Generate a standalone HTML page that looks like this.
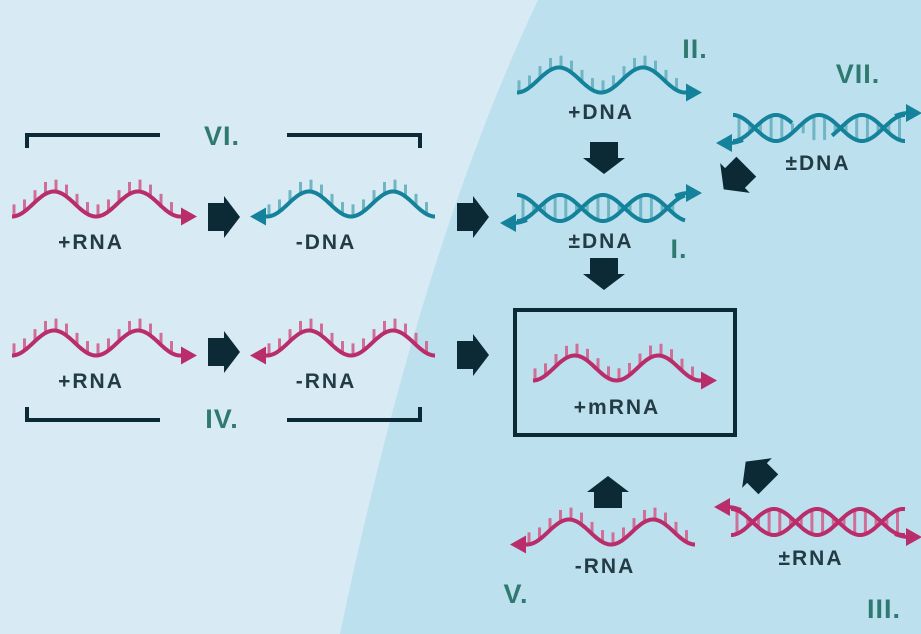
<!DOCTYPE html>
<html><head><meta charset="utf-8"><style>
html,body{margin:0;padding:0;width:921px;height:634px;overflow:hidden;background:#d8ebf4}
svg{display:block}
.lb{font-family:"Liberation Sans","DejaVu Sans",sans-serif;font-weight:bold;fill:#223b44;font-size:21px;letter-spacing:2px;text-anchor:middle}
.rn{font-family:"Liberation Sans","DejaVu Sans",sans-serif;font-weight:bold;fill:#2e7a70;font-size:27px;text-anchor:middle;letter-spacing:1px}
</style></head><body>
<svg id="s" width="921" height="634" viewBox="0 0 921 634" xmlns="http://www.w3.org/2000/svg">
<path d="M538 0 Q420 250 340 634 L921 634 L921 0 Z" fill="#bde0ee"/>
<g fill="none" stroke="#0b2a35" stroke-width="4">
<path d="M27 148 V135 H160"/><path d="M287 135 H420 V148"/>
<path d="M27 407 V420 H160"/><path d="M287 420 H420 V407"/>
<rect x="515" y="310" width="220" height="125"/>
</g>
<g id="g"></g>
<text class="rn" x="222" y="145">VI.</text>
<text class="rn" x="695" y="58">II.</text>
<text class="rn" x="858" y="83">VII.</text>
<text class="rn" x="679" y="258">I.</text>
<text class="rn" x="222" y="428">IV.</text>
<text class="rn" x="516" y="603">V.</text>
<text class="rn" x="884" y="618">III.</text>
<text class="lb" x="91" y="249">+RNA</text>
<text class="lb" x="326" y="249">-DNA</text>
<text class="lb" x="601" y="119">+DNA</text>
<text class="lb" x="601" y="248">±DNA</text>
<text class="lb" x="818" y="170">±DNA</text>
<text class="lb" x="91" y="388">+RNA</text>
<text class="lb" x="326" y="388">-RNA</text>
<text class="lb" x="617" y="414">+mRNA</text>
<text class="lb" x="605" y="573">-RNA</text>
<text class="lb" x="811" y="565">±RNA</text>
</svg>
<script>
var g=document.getElementById('g'),NS='http://www.w3.org/2000/svg';
function el(t,a){var e=document.createElementNS(NS,t);for(var k in a)e.setAttribute(k,a[k]);g.appendChild(e);return e;}
var PINK='#b92d6a',PT='#cf6f98',TEAL='#13829a',TT='#6fb5c4',DK='#0b2a35';
function wave(x0,x1,cy,A,P,ph,sign){var d='';for(var x=x0;x<=x1+0.01;x+=1){var y=cy+sign*A*Math.cos(2*Math.PI*(x-ph)/P);d+=(d?'L':'M')+x.toFixed(1)+' '+y.toFixed(1);}return d;}
function head(x,y,dir,c){var s=dir>0?1:-1;el('polygon',{points:(x)+','+y+' '+(x-s*16)+','+(y-9)+' '+(x-s*16)+','+(y+9),fill:c});}
function single(x0,x1,cy,c,tc,dir){var A=12.5,P=(x1-x0)/2;
 for(var x=x0+2;x<=x1;x+=10.5){var y=cy+A*Math.cos(2*Math.PI*(x-x0)/P);el('line',{x1:x,y1:y,x2:x,y2:y-12,stroke:tc,'stroke-width':3});}
 el('path',{d:wave(x0,x1,cy,A,P,x0,1),stroke:c,'stroke-width':4,fill:'none'});
 if(dir>0){el('path',{d:'M'+x1+' '+(cy+A)+' L'+(x1+8)+' '+(cy+A),stroke:c,'stroke-width':4});head(x1+17,cy+A,1,c);}
 else{el('path',{d:'M'+x0+' '+(cy+A)+' L'+(x0-8)+' '+(cy+A),stroke:c,'stroke-width':4});head(x0-17,cy+A,-1,c);}
}
function helix(x0,x1,cy,c,tc,gap,flip){var A=13,P=86;
 for(var x=x0+6;x<=x1-4;x+=10.7){var y1=cy+A*Math.cos(2*Math.PI*(x-x0)/P),y2=cy-A*Math.cos(2*Math.PI*(x-x0)/P);
  if(Math.abs(y1-y2)>5)el('line',{x1:x,y1:Math.min(y1,y2),x2:x,y2:Math.max(y1,y2),stroke:tc,'stroke-width':3});}
 el('path',{d:wave(x0,x1,cy,A,P,x0,-1),stroke:c,'stroke-width':4,fill:'none'});
 if(gap){el('path',{d:wave(x0,gap[0],cy,A,P,x0,1),stroke:c,'stroke-width':4,fill:'none'});el('path',{d:wave(gap[1],x1,cy,A,P,x0,1),stroke:c,'stroke-width':4,fill:'none'});}
 else el('path',{d:wave(x0,x1,cy,A,P,x0,1),stroke:c,'stroke-width':4,fill:'none'});
 var r=flip?1:-1;
 head(x1+17,cy+r*(A+2),1,c);el('path',{d:'M'+(x1-10)+' '+(cy+r*(A-1))+' Q'+(x1-2)+' '+(cy+r*(A+2))+' '+(x1+3)+' '+(cy+r*(A+2)),stroke:c,'stroke-width':4,fill:'none'});
 head(x0-17,cy-r*(A+2),-1,c);el('path',{d:'M'+(x0+10)+' '+(cy-r*(A-1))+' Q'+(x0+2)+' '+(cy-r*(A+2))+' '+(x0-3)+' '+(cy-r*(A+2)),stroke:c,'stroke-width':4,fill:'none'});
}
function barrow(cx,cy,rot){el('polygon',{points:'-16,-14 0,-14 0,-21 16,0 0,21 0,14 -16,14',fill:DK,transform:'translate('+cx+','+cy+') rotate('+rot+')'});}
single(12,180,204,PINK,PT,1);
single(267,435,204,TEAL,TT,-1);
single(517,685,80,TEAL,TT,1);
single(12,180,343,PINK,PT,1);
single(267,435,343,PINK,PT,-1);
single(533,700,368,PINK,PT,1);
single(527,695,532,PINK,PT,-1);
helix(517,685,208,TEAL,TT);
helix(733,905,128,TEAL,TT,[792,832]);
helix(731,905,522,PINK,PT,null,true);
barrow(224,217,0);barrow(473,217,0);barrow(224,352,0);barrow(473,355,0);
barrow(604,158,90);barrow(604,274,90);barrow(608,492,-90);
barrow(735,178,135);barrow(757,473,-135);
</script>
</body></html>
